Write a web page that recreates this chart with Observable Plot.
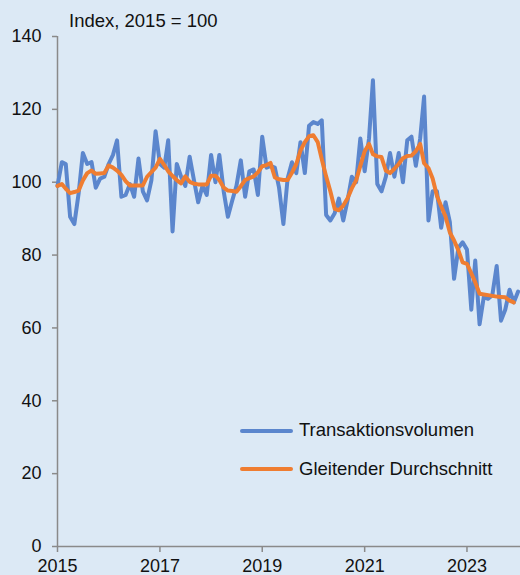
<!DOCTYPE html>
<html><head><meta charset="utf-8">
<script src="https://cdn.jsdelivr.net/npm/d3@7"></script>
<script src="https://cdn.jsdelivr.net/npm/@observablehq/plot@0.6"></script>
<style>
html,body{margin:0;padding:0;background:#dce9f5;}
#wrap{position:relative;width:520px;height:575px;overflow:hidden;background:#dce9f5;font-family:"Liberation Sans",Arial,sans-serif;color:#111;}
#wrap svg{position:absolute;left:0;top:0;}
.t{position:absolute;font-size:18.5px;white-space:nowrap;line-height:1;}
.sw{position:absolute;height:4px;width:53px;border-radius:2px;}
</style></head><body><div id="wrap"></div>
<script>
const startYear = 2015;
const title = "Index, 2015 = 100";
const seriesNames = ["Transaktionsvolumen", "Gleitender Durchschnitt"];
const seriesColors = ["#5b86cd", "#ef7d31"];
const yTicks = [0, 20, 40, 60, 80, 100, 120, 140];
const xTickYears = [2015, 2017, 2019, 2021, 2023];

// monthly values from Jan 2015
const transaktionsvolumen = [
  99, 105.5, 105, 90.5, 88.5, 97, 108, 105, 105.5, 98.5, 101, 101.5,
  105, 107.5, 111.5, 96, 96.5, 99.5, 96, 106.5, 97.5, 95, 100.5, 114,
  105, 104, 111.5, 86.5, 105, 101.5, 99, 107, 100.5, 94.5, 99, 96.5,
  107.5, 100, 107.5, 97.5, 90.5, 95, 99, 106, 96, 103, 103.5, 96.5,
  112.5, 104, 104.5, 104, 98.5, 88.5, 101, 105.5, 102.5, 111, 102.5, 115.5,
  116.5, 116, 117, 91, 89.5, 91.5, 95.5, 89.5, 95, 101.5, 100, 112,
  103, 112, 128, 99.5, 97.5, 101.5, 108, 101.5, 108, 100, 111.5, 112.5,
  104.5, 112, 123.5, 89.5, 97.5, 97.5, 87.5, 94.5, 89, 73.5, 82, 83.5,
  81.5, 65, 78.5, 61, 68.5, 68, 69, 77, 62, 65, 70.5, 67,
  70
];
const gleitenderDurchschnitt = [
  99, 99.5, 98.2, 97, 97.3, 97.7, 100.5, 102.5, 103.2, 102.3, 102.4, 102.5,
  104.6, 104, 103.2, 102, 100.3, 99.1, 99.1, 99.1, 99.1, 101.5, 102.8, 104,
  106.4, 104.7, 103, 101.7, 100.6, 99.7, 101.6, 100.1, 99.6, 99.4, 99.4, 99.4,
  101.8, 101.8, 100.6, 98.5, 97.7, 97.6, 97.4, 98.9, 100.6, 101.1, 101.6, 102.7,
  104.4, 104.7, 105.3, 101.3, 100.8, 100.6, 100.6, 102.6, 105, 108.7, 111, 112.6,
  112.9, 111, 106.3, 101.6, 97.5, 92.7, 92.3, 93.6, 95.6, 98.3, 100.5, 104.5,
  108.5, 110.5, 107.7, 107.1, 106.9, 103.2, 102.5, 103.7, 105, 106.6, 107.2, 107.3,
  108.5, 110.5, 105.2, 103.9, 101, 96.2, 93.4, 90.6, 86.2, 84, 81.3, 78,
  77.6, 75, 72.5, 69.4, 69.2, 69, 68.8, 68.6, 68.5, 68.4, 67.5, 67
];

const monthDate = k => new Date(Date.UTC(startYear, k, 1));
const rows = (arr, name) => arr.map((v, k) => ({date: monthDate(k), value: v, series: name}));
const blueRows = rows(transaktionsvolumen, seriesNames[0]);
const orangeRows = rows(gleitenderDurchschnitt, seriesNames[1]);

const xDomain = [new Date(Date.UTC(2015, 0, 1)), new Date(Date.UTC(2024, 0, 18))];
const axisColor = "#8a8a8a";
const font = "'Liberation Sans', Arial, sans-serif";

const chart = Plot.plot({
  width: 520, height: 575,
  marginLeft: 57, marginRight: 0, marginTop: 36, marginBottom: 29,
  style: {background: "transparent", fontSize: "18px", fontFamily: font, color: "#111", overflow: "visible"},
  x: {type: "utc", domain: xDomain},
  y: {domain: [0, 140]},
  marks: [
    Plot.axisY({ticks: yTicks, tickSize: 5, tickPadding: 11, stroke: axisColor, strokeWidth: 1.5, fill: "#111", label: null}),
    Plot.axisX({ticks: xTickYears.map(y => new Date(Date.UTC(y, 0, 1))), tickFormat: d => String(d.getUTCFullYear()),
      tickSize: 6, tickPadding: 7, stroke: axisColor, strokeWidth: 1.5, fill: "#111", label: null}),
    Plot.ruleX([xDomain[0]], {stroke: axisColor, strokeWidth: 1.5}),
    Plot.ruleY([0], {stroke: axisColor, strokeWidth: 1.5}),
    Plot.lineY(blueRows, {x: "date", y: "value", stroke: seriesColors[0], strokeWidth: 4, strokeLinejoin: "round", strokeLinecap: "round"}),
    Plot.lineY(orangeRows, {x: "date", y: "value", stroke: seriesColors[1], strokeWidth: 4, strokeLinejoin: "round", strokeLinecap: "round"})
  ]
});

const wrap = document.getElementById("wrap");
wrap.appendChild(chart);

function addText(txt, left, top) {
  const d = document.createElement("div");
  d.className = "t"; d.textContent = txt;
  d.style.left = left + "px"; d.style.top = top + "px";
  wrap.appendChild(d);
}
function addSwatch(color, left, top) {
  const d = document.createElement("div");
  d.className = "sw"; d.style.background = color;
  d.style.left = left + "px"; d.style.top = top + "px";
  wrap.appendChild(d);
}
addText(title, 69, 12);
addSwatch(seriesColors[0], 240, 428.5);
addText(seriesNames[0], 299, 421);
addSwatch(seriesColors[1], 240, 467.3);
addText(seriesNames[1], 299, 459.5);
</script>
</body></html>
